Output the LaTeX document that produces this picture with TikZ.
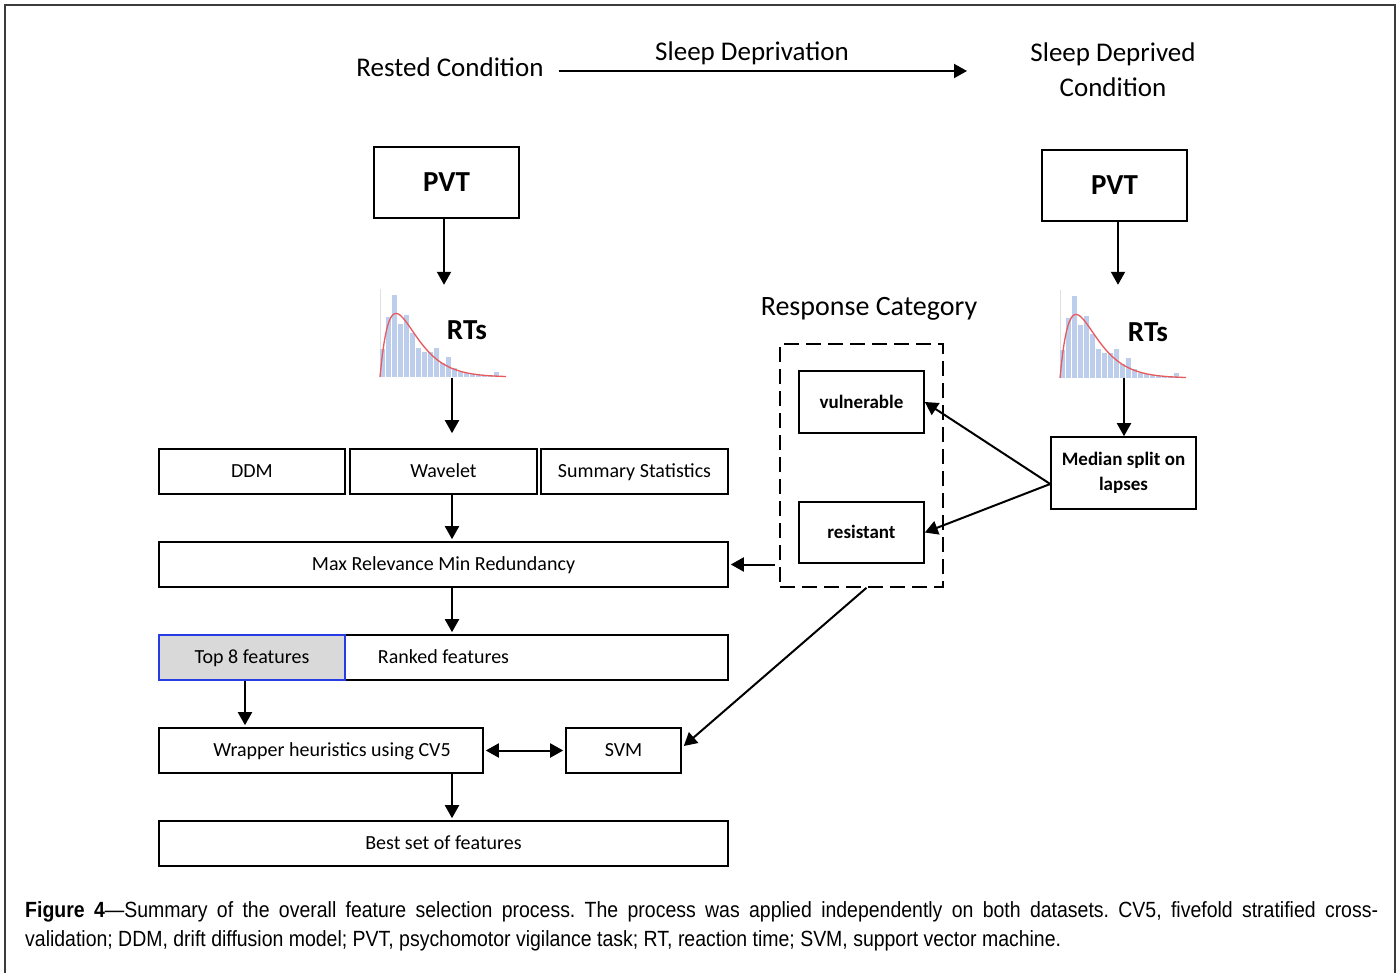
\documentclass[tikz,border=0pt]{standalone}
\usepackage{fontspec}
\setmainfont{Carlito}
\newfontfamily\capfont[FakeStretch=0.885]{Liberation Sans}
\usetikzlibrary{arrows.meta,calc}
\definecolor{histblue}{RGB}{188,206,236}
\definecolor{curvered}{RGB}{232,88,92}
\definecolor{topblue}{RGB}{40,60,230}
\definecolor{topgray}{RGB}{217,217,217}
\definecolor{framegray}{RGB}{60,60,60}
\newcommand\rtHist{%
  \draw[black!12, line width=0.8pt] (0,0) -- (0,-88);
  \foreach \h [count=\i] in {28,60,82,53,62,44,29,25,25,29,14,20,9,5,4,3,2,2,2,5,1}
    \fill[histblue] ({(\i-1)*6},0) rectangle ({\i*6-0.7},{-\h});
  \draw[curvered, line width=1.3pt] plot[domain=0:126, samples=90, smooth] ({\x},{-10.8*\x*exp(-\x/16)});
}
\begin{document}
\begin{tikzpicture}[x=1pt,y=-1pt,
  box/.style={draw, line width=1.6pt, inner sep=0pt, font=\fontsize{20}{24}\selectfont, text height=12.9pt, text depth=0pt},
  bbox/.style={draw, line width=1.6pt, inner sep=0pt, font=\fontsize{19}{25}\selectfont\bfseries, align=center},
  big/.style={font=\fontsize{27}{35}\selectfont, inner sep=0pt, align=center},
  arr/.style={-{Triangle[length=13pt,width=14pt]}, line width=2pt},
  dbl/.style={{Triangle[length=13pt,width=14pt]}-{Triangle[length=13pt,width=14pt]}, line width=2pt}]
\useasboundingbox (0,0) rectangle (1398,973);
\fill[white] (0,0) rectangle (1398,973);
\draw[framegray, line width=1.3pt] (5,973) -- (5,5) -- (1395,5) -- (1395,973);

% top row
\node[big, anchor=base] (rested) at (450,77) {Rested Condition};
\node[big, anchor=base] (sdep) at (752,61) {Sleep Deprivation};
\node[big] (deprived) at (1113,70) {Sleep Deprived\\Condition};
\coordinate (sdend) at (967,71);
\draw[arr] ([xshift=15pt]rested.east |- sdend) -- (sdend);

% PVT boxes
\node[draw, line width=1.6pt, inner sep=0pt, minimum width=145pt, minimum height=71pt, font=\fontsize{29}{32}\selectfont\bfseries] (pvtL) at (446.5,182.5) {PVT};
\node[draw, line width=1.6pt, inner sep=0pt, minimum width=145pt, minimum height=71pt, font=\fontsize{29}{32}\selectfont\bfseries] (pvtR) at (1114.5,185.5) {PVT};

% histograms
\node[inner sep=0pt, minimum width=127pt, minimum height=90pt] (histL) at (441.5,333) {};
\node[inner sep=0pt, minimum width=127pt, minimum height=90pt] (histR) at (1121.5,333) {};
\begin{scope}[shift={(380,377)}]\rtHist\end{scope}
\begin{scope}[shift={(1060,378)}]\rtHist\end{scope}
\node[font=\fontsize{29}{32}\selectfont\bfseries, inner sep=0pt] (rtL) at (467,330) {RTs};
\node[font=\fontsize{29}{32}\selectfont\bfseries, inner sep=0pt] (rtR) at (1148,332) {RTs};

\draw[arr] ([xshift=-2.5pt]pvtL.south) -- ([xshift=2.5pt,yshift=3pt]histL.north);
\draw[arr] ([xshift=3.5pt]pvtR.south) -- ([xshift=-3.5pt,yshift=3pt]histR.north);

% left column
\node[box, minimum width=186pt, minimum height=45pt] (ddm) at (252,471.5) {DDM};
\node[box, minimum width=187pt, minimum height=45pt] (wave) at (443.5,471.5) {Wavelet};
\node[box, minimum width=187pt, minimum height=45pt] (summ) at (634.5,471.5) {Summary Statistics};
\node[box, minimum width=569pt, minimum height=45pt] (mrmr) at (443.5,564.5) {Max Relevance Min Redundancy};
\node[box, minimum width=569pt, minimum height=45pt] (ranked) at (443.5,657.5) {Ranked features};
\node[box, draw=topblue, fill=topgray, minimum width=186pt, minimum height=45pt] (top8) at (252,657.5) {Top 8 features};
\node[box, minimum width=324pt, minimum height=45pt] (wrap) at (321,750.5) {\hspace*{22pt}Wrapper heuristics using CV5};
\node[box, minimum width=115pt, minimum height=45pt] (svm) at (623.5,750.5) {SVM};
\node[box, minimum width=569pt, minimum height=45pt] (best) at (443.5,843.5) {Best set of features};

\draw[arr] ([xshift=10.5pt]histL.south) -- ([xshift=8.5pt,yshift=15pt]wave.north);
\draw[arr] ([xshift=8.5pt]wave.south) -- ([xshift=8.5pt,yshift=2pt]mrmr.north);
\draw[arr] ([xshift=8.5pt]mrmr.south) -- ([xshift=8.5pt,yshift=2pt]ranked.north);
\draw[arr] ([xshift=-7pt]top8.south) -- ([xshift=-76pt,yshift=2pt]wrap.north);
\draw[dbl] ([xshift=2pt]wrap.east) -- ([xshift=-2pt]svm.west);
\draw[arr] ([xshift=131pt]wrap.south) -- ([xshift=8.5pt,yshift=2pt]best.north);

% response category
\node[big, font=\fontsize{28}{34}\selectfont] (rcat) at (869,309) {Response Category};
\node[draw, dash pattern=on 15pt off 7pt, line width=1.6pt, minimum width=163pt, minimum height=243pt, inner sep=0pt] (dash) at (861.5,465.5) {};
\node[bbox, minimum width=125pt, minimum height=62pt, text height=12.3pt, text depth=0pt] (vul) at (861.5,402) {vulnerable};
\node[bbox, minimum width=125pt, minimum height=61pt, text height=12.3pt, text depth=0pt] (res) at (861.5,532.5) {resistant};
\node[bbox, minimum width=145pt, minimum height=72pt] (med) at (1123.5,473) {Median split on\\lapses};

\draw[arr] ([xshift=2.5pt]histR.south) -- ([xshift=0.5pt]med.north);
\draw[arr] ([yshift=-11pt]med.west) -- (vul.east);
\draw[arr] ([yshift=-11pt]med.west) -- (res.east);
\draw[arr] ([xshift=-4pt]dash.west |- mrmr.east) -- ([xshift=2pt]mrmr.east);
\draw[arr] ([xshift=5pt]dash.south) -- ([xshift=2pt,yshift=4.5pt]svm.east);

% caption
\node[anchor=north west, inner sep=0pt, text width=1353pt, align=justify,
      font=\capfont\fontsize{22}{29}\selectfont\frenchspacing] (cap) at (25,901)
  {\textbf{Figure 4}—Summary of the overall feature selection process. The process was applied independently on both datasets. CV5, fivefold stratified cross-\linebreak validation; DDM, drift diffusion model; PVT, psychomotor vigilance task; RT, reaction time; SVM, support vector machine.};
\end{tikzpicture}
\end{document}
